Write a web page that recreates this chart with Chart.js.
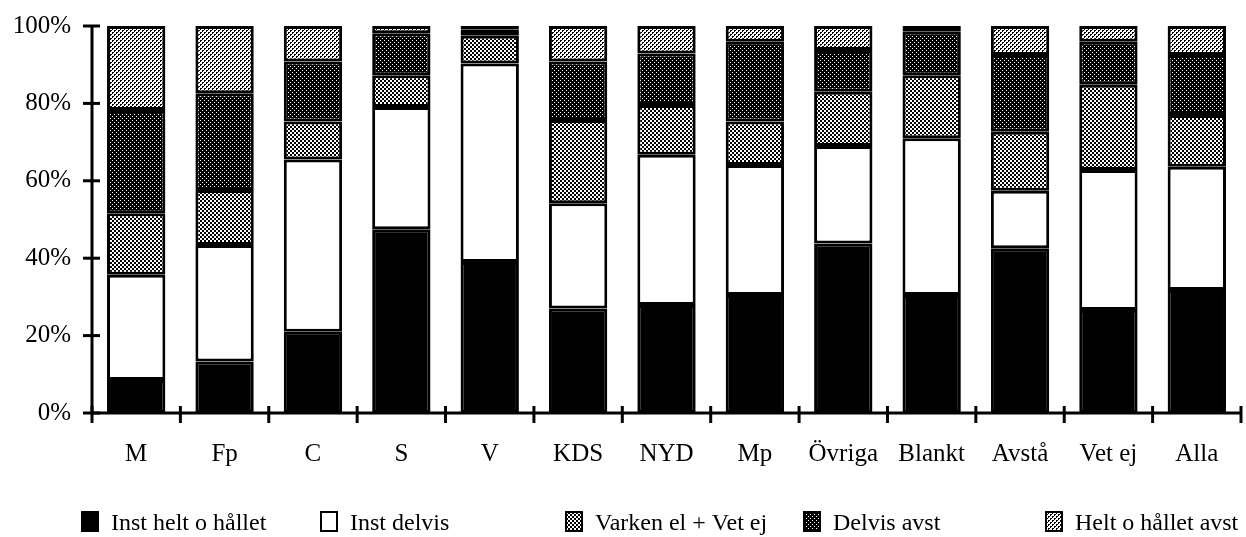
<!DOCTYPE html>
<html>
<head>
<meta charset="utf-8">
<script src="https://cdn.jsdelivr.net/npm/chart.js@4"></script>
<style>
html,body{margin:0;padding:0;background:#fff;}
#wrap{width:1246px;height:537px;position:relative;}
</style>
</head>
<body>
<div id="wrap"><canvas id="c" width="1246" height="537"></canvas></div>
<script>
const categories = ['M','Fp','C','S','V','KDS','NYD','Mp','Övriga','Blankt','Avstå','Vet ej','Alla'];
const seriesNames = ['Inst helt o hållet','Inst delvis','Varken el + Vet ej','Delvis avst','Helt o hållet avst'];
const instHelt   = [8.5,13.3,21.0,47.5,39.0,27.0,27.9,30.5,43.8,30.5,42.6,26.6,31.8];
const instDelvis = [27.2,30.1,44.5,31.6,51.3,27.2,38.8,33.6,25.2,40.5,14.8,36.2,31.8];
const varken     = [15.9,14.2,9.8,8.2,7.2,21.5,12.9,11.2,14.0,16.3,15.3,22.0,13.4];
const delvisAvst = [26.7,25.0,15.5,10.8,1.5,15.1,13.3,20.6,10.8,11.2,19.8,11.1,15.5];
const heltAvst   = [21.7,17.4,9.2,1.9,1.0,9.2,7.1,4.1,6.2,1.5,7.5,4.1,7.5];
const yTickValues = [0,20,40,60,80,100];

const FONT = "'Liberation Serif', 'Times New Roman', serif";

function makePattern(size, pixels, bg, fg){
  const c = document.createElement('canvas');
  c.width = size; c.height = size;
  const x = c.getContext('2d');
  x.fillStyle = bg; x.fillRect(0,0,size,size);
  x.fillStyle = fg;
  pixels.forEach(p => x.fillRect(p[0], p[1], 1, 1));
  return x.createPattern(c, 'repeat');
}
const lPix = [[0,0],[1,0],[0,1],[2,2],[3,2],[2,3]];
const patLight  = makePattern(4, lPix, '#fff', '#000');
const patMedium = makePattern(4, [[0,0],[1,0],[0,1],[1,1],[2,2],[3,2],[2,3],[3,3]], '#fff', '#000');
const patDark   = makePattern(4, [[0,0],[2,2]], '#000', '#fff');

const fills = ['#000', '#fff', patMedium, patDark, patLight];
const seriesData = [instHelt, instDelvis, varken, delvisAvst, heltAvst];

const datasets = seriesData.map((d,i) => ({
  label: seriesNames[i],
  data: d,
  backgroundColor: fills[i],
  borderColor: '#000',
  borderWidth: 3,
  borderSkipped: false,
  barPercentage: 0.66,
  categoryPercentage: 1.0
}));

const axisTicks = {
  id: 'axisTicks',
  afterDraw(chart){
    const c = chart.ctx;
    const xs = chart.scales.x, ys = chart.scales.y;
    const area = chart.chartArea;
    const step = xs.getPixelForValue(1) - xs.getPixelForValue(0);
    c.save();
    c.strokeStyle = '#000';
    c.lineWidth = 3;
    c.beginPath();
    c.moveTo(area.left, area.top); c.lineTo(area.left, area.bottom);
    c.moveTo(area.left, area.bottom); c.lineTo(area.right, area.bottom);
    c.stroke();
    yTickValues.forEach(v => {
      const y = ys.getPixelForValue(v);
      c.beginPath(); c.moveTo(area.left - 9, y); c.lineTo(area.left + 8, y); c.stroke();
    });
    for (let i = 0; i <= categories.length; i++) {
      const x = i < categories.length ? xs.getPixelForValue(i) - step / 2 : xs.getPixelForValue(i - 1) + step / 2;
      c.beginPath(); c.moveTo(x, area.bottom - 7); c.lineTo(x, area.bottom + 10); c.stroke();
    }
    c.restore();
  }
};

const legendPos = [81, 320, 565, 803, 1045];
const customLegend = {
  id: 'customLegend',
  afterDraw(chart){
    const c = chart.ctx;
    c.save();
    const yTop = 511, sw = 18, sh = 21;
    c.font = "24px " + FONT;
    c.textBaseline = 'alphabetic';
    c.textAlign = 'left';
    seriesNames.forEach((name, i) => {
      const x = legendPos[i];
      c.fillStyle = fills[i];
      c.fillRect(x, yTop, sw, sh);
      c.strokeStyle = '#000';
      c.lineWidth = 2;
      c.strokeRect(x + 1, yTop + 1, sw - 2, sh - 2);
      c.fillStyle = '#000';
      c.fillText(name, x + sw + 12, 530);
    });
    c.restore();
  }
};

new Chart(document.getElementById('c'), {
  type: 'bar',
  data: { labels: categories, datasets },
  options: {
    responsive: false,
    animation: false,
    layout: { padding: { top: 26, right: 5, left: 0, bottom: 0 } },
    plugins: { legend: { display: false }, tooltip: { enabled: false } },
    scales: {
      x: {
        stacked: true,
        offset: true,
        grid: { display: false, drawTicks: false },
        border: { display: false },
        ticks: { color: '#000', font: { family: FONT, size: 25 }, padding: 26, maxRotation: 0, autoSkip: false },
        afterFit(s){ s.height = 124; s.paddingLeft = 0; s.paddingRight = 0; }
      },
      y: {
        stacked: true,
        min: 0, max: 100,
        afterBuildTicks(s){ s.ticks = yTickValues.map(v => ({ value: v })); },
        grid: { display: false, drawTicks: false },
        border: { display: false },
        ticks: { color: '#000', font: { family: FONT, size: 25 }, padding: 21, callback: v => v + '%' },
        afterFit(s){ s.width = 92; s.paddingTop = 0; s.paddingBottom = 0; }
      }
    }
  },
  plugins: [axisTicks, customLegend]
});
</script>
</body>
</html>
